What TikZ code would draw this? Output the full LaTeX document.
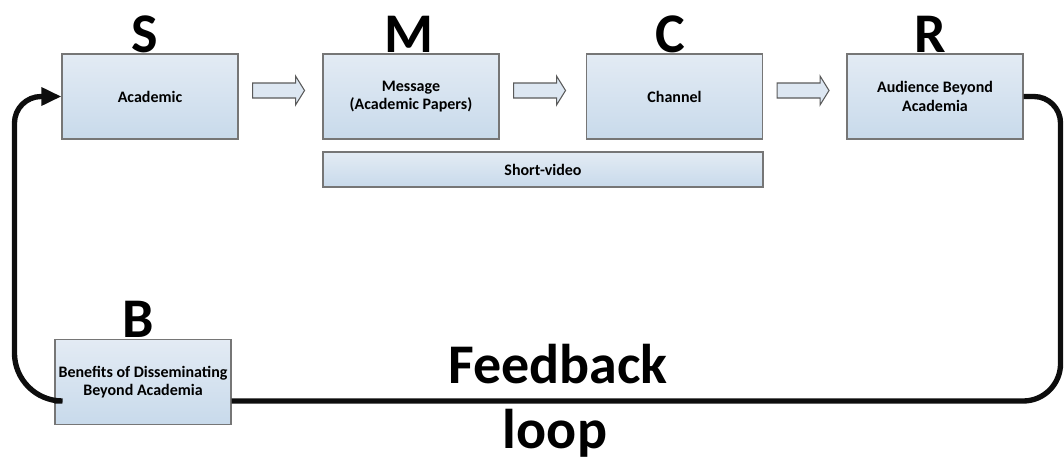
\documentclass[tikz,border=0pt]{standalone}
\usepackage{fontspec}
\setmainfont{Carlito}
\usetikzlibrary{calc,arrows.meta}

\definecolor{boxtop}{RGB}{227,235,244}
\definecolor{boxbot}{RGB}{200,218,235}
\definecolor{boxline}{RGB}{118,118,118}
\definecolor{arrfill}{RGB}{221,231,242}
\definecolor{arrline}{RGB}{90,90,90}

\tikzset{
  stage/.style={draw=boxline, line width=0.8pt, top color=boxtop, bottom color=boxbot,
    minimum width=132pt, minimum height=63.75pt, inner sep=2pt, align=center,
    font=\fontsize{12}{14}\selectfont\bfseries},
  bar/.style={stage, minimum width=330pt, minimum height=26.25pt},
  tag/.style={anchor=base, inner sep=0pt, font=\fontsize{42}{50}\selectfont\bfseries},
  bigword/.style={anchor=base, inner sep=0pt, font=\fontsize{42}{50}\selectfont\bfseries},
  blockarr/.style={draw=arrline, line width=0.8pt, fill=arrfill, line join=miter},
  fb/.style={line width=4pt, black!95}
}

% hollow block arrow starting just right of a node
\newcommand\flowarrow[1]{%
  \draw[blockarr] ($(#1.east)+(14,-6)$) ++(0,-7.5) -- ++(43,0) -- ++(0,-7)
    -- ++(9,14.5) -- ++(-9,14.5) -- ++(0,-7) -- ++(-43,0) -- cycle;}

\begin{document}
\begin{tikzpicture}[x=0.75pt, y=-0.75pt]
  \useasboundingbox (0,0) rectangle (1064,464);

  % stages of the model
  \node[stage] (acad) at (150,96.5) {Academic};
  \node[stage] (msg)  at (411,96.5) {Message\\(Academic Papers)};
  \node[stage] (chan) at (674.5,96.5) {Channel};
  \node[stage] (aud)  at (935,96.5) {Audience Beyond\\Academia};
  \node[bar]   (vid)  at (543,169.5) {Short-video};
  \node[stage] (ben)  at (143,382) {Benefits of Disseminating\\Beyond Academia};

  % letters above the stages
  \node[tag] (tS) at ($(acad.north)+(-5,-1)$) {S};
  \node[tag] (tM) at ($(msg.north)+(-2,-1)$) {M};
  \node[tag] (tC) at ($(chan.north)+(-4,-1)$) {C};
  \node[tag] (tR) at ($(aud.north)+(-5,-1)$) {R};
  \node[tag] (tB) at ($(ben.north)+(-5,-1)$) {B};

  % flow arrows
  \flowarrow{acad}
  \flowarrow{msg}
  \flowarrow{chan}

  % feedback loop
  \coordinate (benR) at ($(ben.east)+(0,19)$);
  \coordinate (benL) at ($(ben.west)+(0,19)$);
  \coordinate (rt) at ($(aud.east)+(37,0)$);
  \coordinate (rb) at (rt |- benR);
  \coordinate (lb) at ($(benL)+(-40,0)$);
  \coordinate (lt) at (lb |- acad.west);
  \draw[fb, rounded corners=20] (aud.east) -- (rt) [rounded corners=28] -- (rb) -- (benR);
  \draw[fb, -{Triangle[length=15pt,width=13pt]}] (benL) [rounded corners=36] -- (lb) [rounded corners=20] -- (lt) -- (acad.west);

  \node[bigword] (fbw) at (558,383) {Feedback};
  \node[bigword] (lpw) at (555,448) {loop};
\end{tikzpicture}
\end{document}
